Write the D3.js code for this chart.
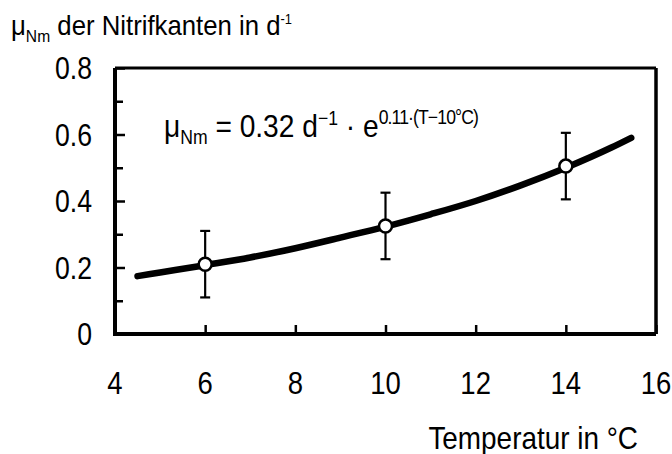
<!DOCTYPE html>
<html>
<head>
<meta charset="utf-8">
<script src="https://cdn.jsdelivr.net/npm/d3@7"></script>
<style>
  body { margin: 0; background: #fff; }
  text { font-family: "Liberation Sans", Arial, sans-serif; fill: #000; }
</style>
</head>
<body>
<div id="chart"></div>
<script>
// measured points (temperature, rate, error)
const temps = [6, 10, 14];
const rates = [0.21, 0.325, 0.505];
const errors = [0.1, 0.1, 0.1];

// fitted curve
const curveT = [4.5, 5, 6, 7, 8, 9, 10, 11, 12, 13, 14, 15, 15.45];
const curveMu = [0.174, 0.185, 0.207, 0.23, 0.258, 0.29, 0.323, 0.36, 0.4, 0.447, 0.5, 0.56, 0.59];

const xTicks = [4, 6, 8, 10, 12, 14, 16];
const yTicks = [0, 0.2, 0.4, 0.6, 0.8];
const yMinor = [0.1, 0.3, 0.5, 0.7];

const width = 672, height = 454;
const margin = {top: 68, right: 16, bottom: 120, left: 115};
const innerW = width - margin.left - margin.right;
const innerH = height - margin.top - margin.bottom;

const svg = d3.select('#chart')
  .append('svg')
  .attr('width', width)
  .attr('height', height);

const g = svg.append('g')
  .attr('transform', 'translate(' + margin.left + ',' + margin.top + ')');

const x = d3.scaleLinear().domain([4, 16]).range([0, innerW]);
const y = d3.scaleLinear().domain([0, 0.8]).range([innerH, 0]);

// the original uses a narrow helvetica, squeeze the text a bit
function narrowText(parent, px, py, sx, size) {
  return parent.append('g')
    .attr('transform', 'translate(' + px + ',' + py + ') scale(' + sx + ',1)')
    .append('text')
    .attr('font-size', size + 'px');
}

// frame: top and right thinner
g.append('line').attr('x1', 0).attr('x2', innerW).attr('y1', 0).attr('y2', 0)
  .attr('stroke', '#000').attr('stroke-width', 3);
g.append('line').attr('x1', innerW).attr('x2', innerW).attr('y1', 0).attr('y2', innerH)
  .attr('stroke', '#000').attr('stroke-width', 3.5);

// axes with inward ticks
const xAxis = g.append('g')
  .attr('transform', 'translate(0,' + innerH + ')')
  .call(d3.axisBottom(x).tickValues(xTicks).tickSize(-9).tickFormat(''));
const yAxis = g.append('g')
  .call(d3.axisLeft(y).tickValues(yTicks).tickSize(-10).tickFormat(''));
g.append('g')
  .call(d3.axisLeft(y).tickValues(yMinor).tickSize(-8).tickFormat(''))
  .select('.domain').remove();

g.selectAll('.domain').attr('stroke', '#000').attr('stroke-width', 4);
g.selectAll('.tick line').attr('stroke', '#000').attr('stroke-width', 2.5);
xAxis.select('.domain').attr('d', 'M0,0H' + innerW);
yAxis.select('.domain').attr('d', 'M0,0V' + (innerH + 2));

// tick labels
xTicks.forEach(d => {
  narrowText(g, x(d), innerH + 60, 0.86, 32)
    .attr('text-anchor', 'middle')
    .text(d);
});
yTicks.forEach(d => {
  narrowText(g, -23, y(d) + 11, 0.86, 31)
    .attr('text-anchor', 'end')
    .text(d === 0 ? '0' : d3.format('.1f')(d));
});

// curve
const line = d3.line()
  .x((d, i) => x(curveT[i]))
  .y(d => y(d))
  .curve(d3.curveMonotoneX);

g.append('path')
  .attr('d', line(curveMu))
  .attr('fill', 'none')
  .attr('stroke', '#000')
  .attr('stroke-width', 6.5)
  .attr('stroke-linecap', 'round');

// error bars
const pts = temps.map((t, i) => ({t: t, v: rates[i], e: errors[i]}));
const bars = g.selectAll('.err').data(pts).enter().append('g');
bars.append('line')
  .attr('x1', d => x(d.t)).attr('x2', d => x(d.t))
  .attr('y1', d => y(d.v - d.e)).attr('y2', d => y(d.v + d.e))
  .attr('stroke', '#000').attr('stroke-width', 2.2);
[-1, 1].forEach(s => {
  bars.append('line')
    .attr('x1', d => x(d.t) - 5).attr('x2', d => x(d.t) + 5)
    .attr('y1', d => y(d.v + s * d.e)).attr('y2', d => y(d.v + s * d.e))
    .attr('stroke', '#000').attr('stroke-width', 2.2);
});
bars.append('circle')
  .attr('cx', d => x(d.t))
  .attr('cy', d => y(d.v))
  .attr('r', 6.5)
  .attr('fill', '#fff')
  .attr('stroke', '#000')
  .attr('stroke-width', 2.5);

// equation
const eq = narrowText(g, 49, 69, 0.88, 32);
eq.append('tspan').text('μ');
eq.append('tspan').attr('font-size', '20px').attr('dy', 7).text('Nm');
eq.append('tspan').attr('dy', -7).text(' = 0.32 d');
eq.append('tspan').attr('font-size', '20px').attr('dy', -12).text('−1');
eq.append('tspan').attr('dy', 12).text(' · e');
eq.append('tspan').attr('font-size', '20px').attr('dy', -13).attr('letter-spacing', '-1px').text('0.11·(T−10°C)');

// axis titles
const title = narrowText(svg, 11, 35, 0.92, 28);
title.append('tspan').text('μ');
title.append('tspan').attr('font-size', '17px').attr('dy', 7).text('Nm');
title.append('tspan').attr('dy', -7).text(' der Nitrifkanten in d');
title.append('tspan').attr('font-size', '14px').attr('dy', -11).text('-1');

narrowText(svg, 638, 449, 0.9, 31)
  .attr('text-anchor', 'end')
  .text('Temperatur in °C');
</script>
</body>
</html>
